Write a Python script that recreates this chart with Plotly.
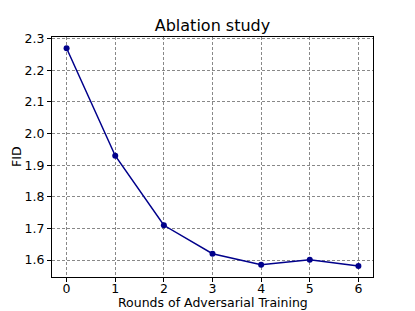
import plotly.graph_objects as go

rounds = [0, 1, 2, 3, 4, 5, 6]
fid = [2.27, 1.93, 1.71, 1.62, 1.585, 1.601, 1.581]
x_ticks = [0, 1, 2, 3, 4, 5, 6]
y_ticks = [1.6, 1.7, 1.8, 1.9, 2.0, 2.1, 2.2, 2.3]

W, H = 407, 303  # page body has an 8px margin

fig = go.Figure(go.Scatter(
    x=rounds, y=fid, mode="lines+markers",
    line=dict(color="#00008b", width=1.5),
    marker=dict(color="#00008b", size=6),
))

axis_common = dict(
    showline=True, linecolor="black", linewidth=1, mirror=True,
    ticks="outside", ticklen=4, tickcolor="black", tickwidth=1,
    showgrid=True, gridcolor="#888888", griddash="3px,2px", gridwidth=0.7,
    zeroline=False, tickfont=dict(size=12.5, color="black"),
    automargin=False,
)

fig.update_layout(
    width=W, height=H,
    margin=dict(l=44, r=42, t=29, b=34),
    paper_bgcolor="white", plot_bgcolor="white",
    font=dict(family="DejaVu Sans", color="black"),
    title=dict(text="Ablation study", x=0.5, xanchor="center", xref="paper",
               y=1 - 17 / H, yanchor="middle", font=dict(size=16, color="black")),
    showlegend=False,
    xaxis=dict(range=[-0.3, 6.3], tickvals=x_ticks, ticklabelstandoff=-4, **axis_common),
    yaxis=dict(range=[1.5465, 2.3054], tickvals=y_ticks, tickformat=".1f", **axis_common),
    annotations=[
        dict(text="Rounds of Adversarial Training", xref="paper", yref="paper",
             x=0.5, y=0, xanchor="center", yanchor="middle", yshift=-25,
             showarrow=False, font=dict(size=12.5, color="black")),
        dict(text="FID", xref="paper", yref="paper", x=0, y=0.5,
             xanchor="center", yanchor="middle", xshift=-36, textangle=-90,
             showarrow=False, font=dict(size=12.5, color="black")),
    ],
)

fig.write_html("out.html")
